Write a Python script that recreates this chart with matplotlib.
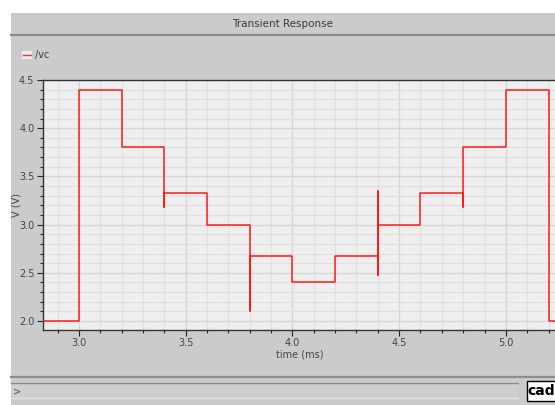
import matplotlib
matplotlib.use('Agg')
import matplotlib.pyplot as plt
from matplotlib.patches import Rectangle
from matplotlib.lines import Line2D
from matplotlib.ticker import MultipleLocator, FormatStrFormatter

# transient trace of /vc, time in ms and voltage in V
time_ms = [2.83, 3.0, 3.0, 3.2, 3.2, 3.4, 3.4, 3.4, 3.6, 3.6, 3.8, 3.8, 3.8,
           4.0, 4.0, 4.2, 4.2, 4.4, 4.4, 4.4, 4.4, 4.6, 4.6, 4.8, 4.8, 4.8,
           5.0, 5.0, 5.2, 5.2, 5.24]
vc_volts = [2.0, 2.0, 4.4, 4.4, 3.8, 3.8, 3.18, 3.33, 3.33, 3.0, 3.0, 2.1, 2.67,
            2.67, 2.4, 2.4, 2.67, 2.67, 3.35, 2.48, 3.0, 3.0, 3.33, 3.33, 3.18, 3.8,
            3.8, 4.4, 4.4, 2.0, 2.0]

title = "Transient Response"
trace_name = "/vc"
xlabel = "time (ms)"
ylabel = "V (V)"

W, H = 555, 405
panel = '#cbcbcb'
dark = '#8c8c8c'
txt = '#3a3a3a'
plt.rcParams['font.family'] = ['Liberation Sans Narrow', 'DejaVu Sans']

fig = plt.figure(figsize=(W/100, H/100), dpi=100)
fig.patch.set_facecolor('white')

def px(x, y):
    # pixel coords (top-left origin) to figure fraction
    return x / W, 1 - y / H

def rect(x0, y0, x1, y1, **kw):
    (a, b), (c, d) = px(x0, y1), px(x1, y0)
    fig.patches.append(Rectangle((a, b), c - a, d - b, transform=fig.transFigure, **kw))

def hline(x0, x1, y, **kw):
    (a, b), (c, _) = px(x0, y), px(x1, y)
    fig.lines.append(Line2D([a, c], [b, b], transform=fig.transFigure, **kw))

# window chrome -----------------------------------------------------------#
rect(11, 13, 555, 405, facecolor=panel, edgecolor='none', zorder=-10)
hline(11, 555, 35, color=dark, lw=1.6)
fig.text(*px(283, 24), title, ha='center', va='center', fontsize=7.5, color=txt)

# legend swatch
rect(22, 51, 32, 59, facecolor='#ececec', edgecolor='none')
hline(23, 31, 55, color='#ff3030', lw=1.0)
fig.text(*px(35, 55), trace_name, ha='left', va='center', fontsize=7, color=txt)

# command line strip and logo
hline(11, 555, 377, color=dark, lw=1.6)
rect(11, 382, 518, 398, facecolor='#cfcfcf', edgecolor='none')
hline(11, 518, 383, color=dark, lw=1.0)
hline(11, 518, 398, color='#e0e0e0', lw=1.0)
fig.text(*px(13, 391), '>', ha='left', va='center', fontsize=7, color='#555555')
rect(527, 381, 556, 401, facecolor='white', edgecolor='black', lw=1.0)
fig.text(*px(541, 391), 'cad', ha='center', va='center', fontsize=10,
         fontweight='bold', color='black')

# plot area ----------------------------------------------------------------#
l, t, r, b = 42.7, 80, 556, 330
ax = fig.add_axes([l / W, 1 - b / H, (r - l) / W, (b - t) / H])
ax.set_zorder(5)
ax.set_facecolor('#efefef')
ax.plot(time_ms, vc_volts, color='#ff1a1a', lw=1.1, zorder=3)

ax.set_xlim(2.83, 5.235)
ax.set_ylim(1.907, 4.5)
ax.xaxis.set_major_locator(MultipleLocator(0.5))
ax.xaxis.set_minor_locator(MultipleLocator(0.1))
ax.yaxis.set_major_locator(MultipleLocator(0.5))
ax.yaxis.set_minor_locator(MultipleLocator(0.1))
ax.xaxis.set_major_formatter(FormatStrFormatter('%.1f'))
ax.yaxis.set_major_formatter(FormatStrFormatter('%.1f'))
ax.grid(which='major', color='#d6d6d6', lw=1.0)
ax.grid(which='minor', color='#e0e0e0', lw=0.9)
ax.set_axisbelow(True)

ax.tick_params(which='major', length=4, width=0.8, color='#222222',
               labelsize=7, labelcolor='#444444', pad=2)
ax.tick_params(which='minor', length=2, width=0.8, color='#222222')
for side in ['left', 'bottom', 'top']:
    ax.spines[side].set_color('#333333')
    ax.spines[side].set_linewidth(1.0)
ax.spines['right'].set_visible(False)

ax.set_xlabel(xlabel, fontsize=7, color='#444444', labelpad=1)
ax.set_ylabel(ylabel, fontsize=7, color='#444444')
ax.yaxis.set_label_coords(-0.042, 0.5)

fig.savefig('out.png', dpi=100, facecolor=fig.get_facecolor())
